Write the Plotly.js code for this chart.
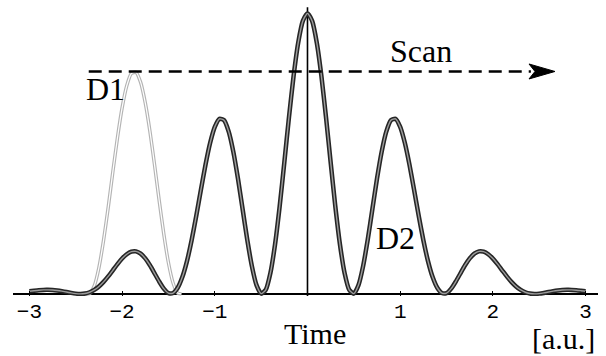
<!DOCTYPE html>
<html>
<head>
<meta charset="utf-8">
<script src="https://cdn.plot.ly/plotly-3.0.1.min.js"></script>
<style>
html,body{margin:0;padding:0;background:#fff;}
#chart{width:606px;height:356px;}
</style>
</head>
<body>
<div id="chart"></div>
<script>
// D2 curve
const timeD2 = [-3.00,-2.95,-2.90,-2.85,-2.80,-2.75,-2.70,-2.65,-2.60,-2.55,-2.50,-2.45,-2.40,-2.35,-2.30,-2.25,-2.20,-2.15,-2.10,-2.05,-2.00,-1.95,-1.90,-1.85,-1.80,-1.75,-1.70,-1.65,-1.60,-1.55,-1.50,-1.45,-1.40,-1.35,-1.30,-1.25,-1.20,-1.15,-1.10,-1.05,-1.00,-0.95,-0.90,-0.85,-0.80,-0.75,-0.70,-0.65,-0.60,-0.55,-0.50,-0.45,-0.40,-0.35,-0.30,-0.25,-0.20,-0.15,-0.10,-0.05,0.00,0.05,0.10,0.15,0.20,0.25,0.30,0.35,0.40,0.45,0.50,0.55,0.60,0.65,0.70,0.75,0.80,0.85,0.90,0.95,1.00,1.05,1.10,1.15,1.20,1.25,1.30,1.35,1.40,1.45,1.50,1.55,1.60,1.65,1.70,1.75,1.80,1.85,1.90,1.95,2.00,2.05,2.10,2.15,2.20,2.25,2.30,2.35,2.40,2.45,2.50,2.55,2.60,2.65,2.70,2.75,2.80,2.85,2.90,2.95,3.00];
const signalD2 = [0.0095,0.0114,0.0131,0.0142,0.0144,0.0138,0.0122,0.0097,0.0066,0.0035,0.0010,0.0000,0.0013,0.0058,0.0141,0.0265,0.0429,0.0625,0.0841,0.1060,0.1259,0.1414,0.1507,0.1517,0.1435,0.1264,0.1022,0.0734,0.0441,0.0187,0.0029,0.0030,0.0219,0.0599,0.1170,0.1913,0.2782,0.3706,0.4609,0.5387,0.5955,0.6243,0.6191,0.5785,0.5064,0.4107,0.3022,0.1935,0.0991,0.0313,0.0009,0.0147,0.0746,0.1768,0.3126,0.4688,0.6292,0.7770,0.8961,0.9733,1.0000,0.9733,0.8961,0.7770,0.6292,0.4688,0.3126,0.1768,0.0746,0.0147,0.0009,0.0313,0.0991,0.1935,0.3022,0.4107,0.5064,0.5785,0.6191,0.6243,0.5955,0.5387,0.4609,0.3706,0.2782,0.1913,0.1170,0.0599,0.0219,0.0030,0.0029,0.0187,0.0441,0.0734,0.1022,0.1264,0.1435,0.1517,0.1507,0.1414,0.1259,0.1060,0.0841,0.0625,0.0429,0.0265,0.0141,0.0058,0.0013,0.0000,0.0010,0.0035,0.0066,0.0097,0.0122,0.0138,0.0144,0.0142,0.0131,0.0114,0.0095];

// D1 curve
const timeD1 = [-2.40,-2.35,-2.30,-2.25,-2.20,-2.15,-2.10,-2.05,-2.00,-1.95,-1.90,-1.85,-1.80,-1.75,-1.70,-1.65,-1.60,-1.55,-1.50,-1.45,-1.40,-1.36];
const signalD1 = [0.000,0.001,0.029,0.094,0.191,0.308,0.435,0.557,0.663,0.742,0.786,0.790,0.754,0.681,0.580,0.460,0.333,0.213,0.111,0.039,0.003,0.000];

// axis ticks
const tickValues = [-3,-2,-1,1,2,3];
const tickLabels = ['\u22123','\u22122','\u22121','1','2','3'];

// scan arrow level / extent
const scanLevel = 0.793;
const scanStart = -2.36;
const scanEnd = 2.67;

const traces = [
  {x: timeD1, y: signalD1, mode:'lines', line:{color:'#b4b4b4', width:3.5, shape:'spline', smoothing:0.6}, hoverinfo:'skip'},
  {x: timeD1, y: signalD1, mode:'lines', line:{color:'#ffffff', width:1.2, shape:'spline', smoothing:0.6}, hoverinfo:'skip'},
  {x: timeD2, y: signalD2, mode:'lines', line:{color:'#262626', width:4.5, shape:'spline', smoothing:0.6}, hoverinfo:'skip'},
  {x: timeD2, y: signalD2, mode:'lines', line:{color:'#9c9c9c', width:1.4, shape:'spline', smoothing:0.6}, hoverinfo:'skip'}
];

const serif = 'Liberation Serif, Times New Roman, serif';

const layout = {
  width:606, height:356,
  margin:{l:13, r:8, t:6, b:60, pad:0},
  paper_bgcolor:'#fff', plot_bgcolor:'#fff',
  showlegend:false,
  xaxis:{
    range:[-3.177, 3.134],
    showgrid:false, zeroline:false, showline:false,
    tickmode:'array', tickvals:tickValues, ticktext:tickLabels,
    ticks:'inside', ticklen:5, tickwidth:1.2, tickcolor:'#000',
    tickfont:{family:'Liberation Mono, Courier New, monospace', size:21, color:'#000'},
    fixedrange:true
  },
  yaxis:{
    range:[-0.0075, 1.0264],
    showgrid:false, zeroline:false, showline:false, showticklabels:false, ticks:'',
    fixedrange:true
  },
  shapes:[
    {type:'line', xref:'x', yref:'y', x0:-3.177, x1:3.134, y0:0, y1:0, line:{color:'#000', width:2}, layer:'below'},
    {type:'line', xref:'x', yref:'y', x0:0, x1:0, y0:-0.025, y1:1.022, line:{color:'#000', width:1.6}, layer:'below'},
    {type:'line', xref:'x', yref:'y', x0:scanStart, x1:scanEnd-0.26, y0:scanLevel, y1:scanLevel, line:{color:'#000', width:2.5, dash:'13px,7px'}, layer:'above'},
    {type:'path', xref:'x', yref:'y', xsizemode:'pixel', ysizemode:'pixel', xanchor:scanEnd, yanchor:scanLevel,
     path:'M0,0 L-26,7.5 L-20,0 L-26,-7.5 Z', fillcolor:'#000', line:{color:'#000', width:1}, layer:'above'}
  ],
  annotations:[
    {text:'Scan', x:1.224, y:0.865, xref:'x', yref:'y', xanchor:'center', yanchor:'middle', showarrow:false, font:{family:serif, size:32, color:'#000'}},
    {text:'D1', x:-2.179, y:0.729, xref:'x', yref:'y', xanchor:'center', yanchor:'middle', showarrow:false, font:{family:serif, size:32, color:'#000'}},
    {text:'D2', x:0.944, y:0.201, xref:'x', yref:'y', xanchor:'center', yanchor:'middle', showarrow:false, font:{family:serif, size:32, color:'#000'}},
    {text:'Time', x:0.076, y:-0.131, xref:'x', yref:'paper', xanchor:'center', yanchor:'middle', showarrow:false, font:{family:serif, size:30, color:'#000'}},
    {text:'[a.u.]', x:2.762, y:-0.145, xref:'x', yref:'paper', xanchor:'center', yanchor:'middle', showarrow:false, font:{family:serif, size:30, color:'#000'}}
  ]
};

Plotly.newPlot('chart', traces, layout, {staticPlot:true, displayModeBar:false});
</script>
</body>
</html>
